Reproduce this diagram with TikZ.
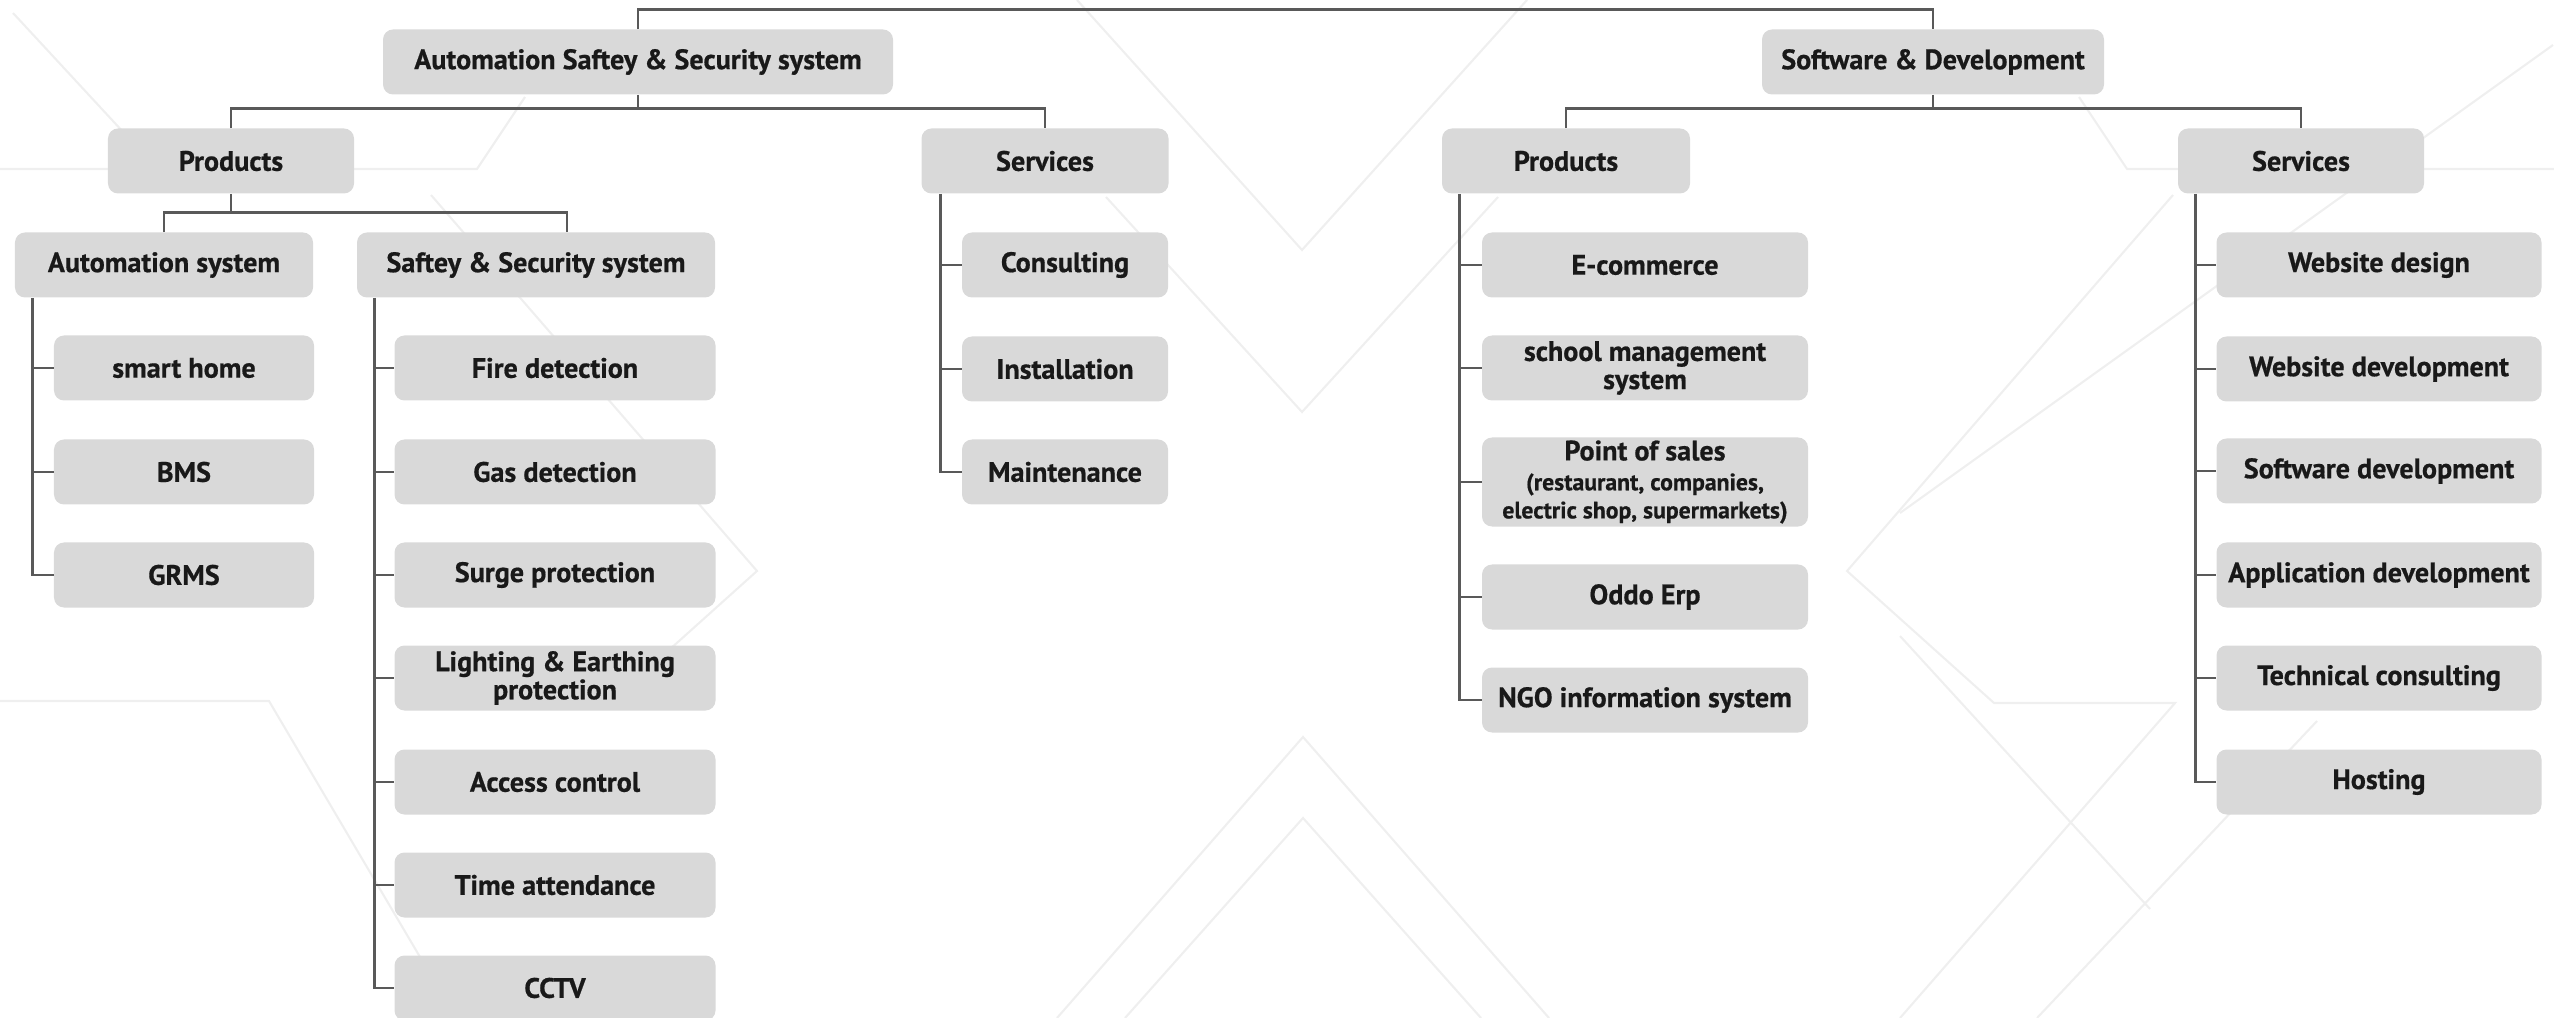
\documentclass[tikz,border=0pt]{standalone}
\usepackage{fontspec}
\setmainfont{PT Sans}
\definecolor{boxgray}{HTML}{D9D9D9}
\definecolor{linegray}{HTML}{595959}
\definecolor{faint}{HTML}{EFEFEF}
\newcommand{\subtxt}{\fontsize{13.5}{12}\selectfont}
\tikzset{
	box/.style={fill=boxgray, rounded corners=2mm, inner sep=0pt, align=center,
		minimum height=13mm, text=black!90,
		font=\bfseries\addfontfeature{FakeBold=0.6}\fontsize{16}{16}\selectfont},
	link/.style={draw=linegray, line width=1.6pt},
	deco/.style={draw=faint, line width=1.2pt},
}
\begin{document}
\begin{tikzpicture}[x=0.2mm,y=-0.2mm]
	\useasboundingbox (0,0) rectangle (2554,1018);
	
	% background pattern
	\draw[deco] (1077,0) -- (1302,250) -- (1527,0);
	\draw[deco] (1106,197) -- (1302,412) -- (1498,197);
	\draw[deco] (1057,1018) -- (1303,737) -- (1549,1018);
	\draw[deco] (1125,1018) -- (1303,818) -- (1481,1018);
	\draw[deco] (2173,195) -- (1847,571) -- (1994,703) -- (2175,703) -- (1900,1018);
	\draw[deco] (431,195) -- (757,571) -- (610,703);
	\draw[deco] (2079,97) -- (2127,169) -- (2554,169);
	\draw[deco] (525,97) -- (477,169) -- (0,169);
	\draw[deco] (0,701) -- (269,701) -- (456,1018);
	\draw[deco] (2553,45) -- (1900,513);
	\draw[deco] (1900,636) -- (2150,909);
	\draw[deco] (2317,721) -- (2037,1018);
	\draw[deco] (13,13) -- (125,134);
	
	% top level
	\node[box,minimum width=102mm] (asec) at (638,62) {Automation Saftey \& Security system};
	\node[box,minimum width=68.4mm] (soft) at (1933,62) {Software \& Development};
	\draw[link] (asec.north) -- ++(0,-19.5) -| (soft.north);
	
	% products / services
	\node[box,minimum width=49.2mm] (prodA) at (231,161) {Products};
	\node[box,minimum width=49.4mm] (servA) at (1045,161) {Services};
	\node[box,minimum width=49.6mm] (prodB) at (1566,161) {Products};
	\node[box,minimum width=49.2mm] (servB) at (2301,161) {Services};
	\draw[link] (asec.south) -- ++(0,14.5);
	\draw[link] (prodA.north) -- ++(0,-19.5) -| (servA.north);
	\draw[link] (soft.south) -- ++(0,14.5);
	\draw[link] (prodB.north) -- ++(0,-19.5) -| (servB.north);
	
	% automation side
	\node[box,minimum width=59.6mm] (autosys) at (164,265) {Automation system};
	\node[box,minimum width=71.6mm] (safsys) at (536,265) {Saftey \& Security system};
	\draw[link] (prodA.south) -- ++(0,19.5);
	\draw[link] (autosys.north) -- ++(0,-19.5) -| ([xshift=6.2mm]safsys.north);
	
	\node[box,minimum width=52mm] (smart) at (184,368) {smart home};
	\node[box,minimum width=52mm] (bms) at (184,472) {BMS};
	\node[box,minimum width=52mm] (grms) at (184,575) {GRMS};
	
	\node[box,minimum width=64.2mm] (fire) at (555,368) {Fire detection};
	\node[box,minimum width=64.2mm] (gas) at (555,472) {Gas detection};
	\node[box,minimum width=64.2mm] (surge) at (555,575) {Surge protection};
	\node[box,minimum width=64.2mm] (light) at (555,678) {Lighting \& Earthing\\protection};
	\node[box,minimum width=64.2mm] (access) at (555,782) {Access control};
	\node[box,minimum width=64.2mm] (time) at (555,885) {Time attendance};
	\node[box,minimum width=64.2mm] (cctv) at (555,988) {CCTV};
	
	\node[box,minimum width=41.2mm] (consult) at (1065,265) {Consulting};
	\node[box,minimum width=41.2mm] (install) at (1065,369) {Installation};
	\node[box,minimum width=41.2mm] (maint) at (1065,472) {Maintenance};
	
	% software side
	\node[box,minimum width=65.2mm] (ecom) at (1645,265) {E-commerce};
	\node[box,minimum width=65.2mm] (school) at (1645,368) {school management\\system};
	\node[box,minimum width=65.2mm,minimum height=17.8mm] (pos) at (1645,482)
		{Point of sales\\[1pt]\subtxt (restaurant, companies,\\\subtxt electric shop, supermarkets)};
	\node[box,minimum width=65.2mm] (oddo) at (1645,597) {Oddo Erp};
	\node[box,minimum width=65.2mm] (ngo) at (1645,700) {NGO information system};
	
	\node[box,minimum width=65mm] (webd) at (2379,265) {Website design};
	\node[box,minimum width=65mm] (webdev) at (2379,369) {Website development};
	\node[box,minimum width=65mm] (swdev) at (2379,471) {Software development};
	\node[box,minimum width=65mm] (appdev) at (2379,575) {Application development};
	\node[box,minimum width=65mm] (tech) at (2379,678) {Technical consulting};
	\node[box,minimum width=65mm] (host) at (2379,782) {Hosting};
	
	% trunks
	\coordinate (ta) at ([xshift=3.6mm]autosys.south west);
	\draw[link] (ta) |- (grms.west);
	\foreach \n in {smart,bms} \draw[link] (ta |- \n.west) -- (\n.west);
	
	\coordinate (ts) at ([xshift=3.6mm]safsys.south west);
	\draw[link] (ts) |- (cctv.west);
	\foreach \n in {fire,gas,surge,light,access,time} \draw[link] (ts |- \n.west) -- (\n.west);
	
	\coordinate (tv) at ([xshift=3.8mm]servA.south west);
	\draw[link] (tv) |- (maint.west);
	\foreach \n in {consult,install} \draw[link] (tv |- \n.west) -- (\n.west);
	
	\coordinate (tp) at ([xshift=3.6mm]prodB.south west);
	\draw[link] (tp) |- (ngo.west);
	\foreach \n in {ecom,school,pos,oddo} \draw[link] (tp |- \n.west) -- (\n.west);
	
	\coordinate (tw) at ([xshift=3.6mm]servB.south west);
	\draw[link] (tw) |- (host.west);
	\foreach \n in {webd,webdev,swdev,appdev,tech} \draw[link] (tw |- \n.west) -- (\n.west);
	
\end{tikzpicture}
\end{document}
